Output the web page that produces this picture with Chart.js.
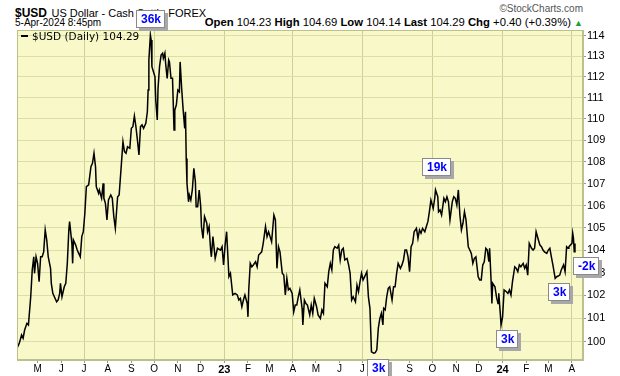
<!DOCTYPE html>
<html>
<head>
<meta charset="utf-8">
<script src="https://cdn.jsdelivr.net/npm/chart.js@4.4.1/dist/chart.umd.min.js"></script>
<style>
  body { margin: 0; background: #fff; }
  #wrap { position: relative; width: 620px; height: 376px; font-family: Arial, "Liberation Sans", sans-serif; overflow: hidden; }
  #chart { position: absolute; left: 0; top: 0; z-index: 1; }
  .txt { position: absolute; white-space: nowrap; color: #000; line-height: 1; }
  .legend { z-index: 2; font-family: "DejaVu Sans", sans-serif; font-size: 10.5px; }
  .legend i { display: inline-block; width: 7px; height: 2px; background: #000; vertical-align: middle; margin: 0 4px 2px 0; }
</style>
</head>
<body>
<div id="wrap">
  <div class="txt" style="left:15px;top:4px;"><b style="font-size:12px">$USD</b> <span style="font-size:11px">US Dollar - Cash Settle FOREX</span></div>
  <div class="txt" style="right:37px;top:4px;font-size:10px;color:#555">&copy;StockCharts.com</div>
  <div class="txt" style="left:15px;top:18px;font-size:10px">5-Apr-2024 8:45pm</div>
  <div class="txt" style="right:37px;top:17px;font-size:11.3px"><b>Open</b> 104.23 <b>High</b> 104.69 <b>Low</b> 104.14 <b>Last</b> 104.29 <b>Chg</b> +0.40 (+0.39%) <span style="color:#2a9d2a;font-size:9px">&#9650;</span></div>
  <div class="txt legend" style="left:21px;top:31px"><i></i>$USD (Daily) 104.29</div>
  <canvas id="chart" width="620" height="376"></canvas>
</div>
<script>
// daily closes (not every session)
const dates = [
  '2022-04-04','2022-04-07','2022-04-10','2022-04-12','2022-04-14','2022-04-17','2022-04-19','2022-04-22',
  '2022-04-24','2022-04-26','2022-04-27','2022-04-29','2022-05-01','2022-05-03','2022-05-05','2022-05-07',
  '2022-05-09','2022-05-11','2022-05-13','2022-05-15','2022-05-18','2022-05-19','2022-05-21','2022-05-23',
  '2022-05-26','2022-05-28','2022-05-30','2022-05-31','2022-06-02','2022-06-05','2022-06-07','2022-06-09',
  '2022-06-11','2022-06-12','2022-06-15','2022-06-16','2022-06-17','2022-06-20','2022-06-22','2022-06-24',
  '2022-06-26','2022-06-28','2022-06-30','2022-07-02','2022-07-04','2022-07-07','2022-07-10','2022-07-12',
  '2022-07-14','2022-07-16','2022-07-17','2022-07-20','2022-07-21','2022-07-24','2022-07-26','2022-07-27',
  '2022-07-29','2022-07-31','2022-08-02','2022-08-05','2022-08-07','2022-08-09','2022-08-11','2022-08-14',
  '2022-08-16','2022-08-19','2022-08-21','2022-08-23','2022-08-25','2022-08-27','2022-08-30','2022-09-01',
  '2022-09-03','2022-09-05','2022-09-07','2022-09-09','2022-09-11','2022-09-13','2022-09-15','2022-09-17',
  '2022-09-20','2022-09-22','2022-09-23','2022-09-24','2022-09-26','2022-09-27','2022-09-28','2022-09-30',
  '2022-10-02','2022-10-03','2022-10-05','2022-10-06','2022-10-08','2022-10-10','2022-10-12','2022-10-13',
  '2022-10-15','2022-10-16','2022-10-18','2022-10-20','2022-10-21','2022-10-23','2022-10-25','2022-10-27',
  '2022-10-28','2022-10-30','2022-11-01','2022-11-03','2022-11-04','2022-11-06','2022-11-08','2022-11-10',
  '2022-11-11','2022-11-12','2022-11-13','2022-11-15','2022-11-16','2022-11-18','2022-11-20','2022-11-22',
  '2022-11-24','2022-11-25','2022-11-27','2022-11-29','2022-12-01','2022-12-02','2022-12-04','2022-12-06',
  '2022-12-09','2022-12-10','2022-12-12','2022-12-14','2022-12-15','2022-12-17','2022-12-20','2022-12-23',
  '2022-12-27','2022-12-29','2022-12-31','2023-01-02','2023-01-04','2023-01-07','2023-01-09','2023-01-12',
  '2023-01-15','2023-01-18','2023-01-20','2023-01-22','2023-01-24','2023-01-26','2023-01-28','2023-01-31',
  '2023-02-01','2023-02-02','2023-02-04','2023-02-06','2023-02-08','2023-02-11','2023-02-13','2023-02-15',
  '2023-02-17','2023-02-19','2023-02-21','2023-02-24','2023-02-26','2023-02-28','2023-03-02','2023-03-04',
  '2023-03-07','2023-03-09','2023-03-11','2023-03-13','2023-03-15','2023-03-18','2023-03-20','2023-03-22',
  '2023-03-24','2023-03-26','2023-03-28','2023-03-31','2023-04-02','2023-04-04','2023-04-06','2023-04-08',
  '2023-04-10','2023-04-13','2023-04-14','2023-04-16','2023-04-18','2023-04-20','2023-04-23','2023-04-25',
  '2023-04-27','2023-04-29','2023-05-02','2023-05-04','2023-05-07','2023-05-09','2023-05-11','2023-05-13',
  '2023-05-16','2023-05-18','2023-05-20','2023-05-22','2023-05-24','2023-05-26','2023-05-29','2023-05-31',
  '2023-06-02','2023-06-04','2023-06-06','2023-06-08','2023-06-11','2023-06-13','2023-06-15','2023-06-17',
  '2023-06-19','2023-06-22','2023-06-24','2023-06-26','2023-06-28','2023-06-30','2023-07-02','2023-07-05',
  '2023-07-07','2023-07-09','2023-07-11','2023-07-13','2023-07-16','2023-07-18','2023-07-20','2023-07-22',
  '2023-07-24','2023-07-26','2023-07-28','2023-07-29','2023-07-31','2023-08-02','2023-08-04','2023-08-06',
  '2023-08-09','2023-08-11','2023-08-13','2023-08-15','2023-08-17','2023-08-20','2023-08-22','2023-08-24',
  '2023-08-26','2023-08-28','2023-08-30','2023-09-01','2023-09-03','2023-09-05','2023-09-07','2023-09-10',
  '2023-09-12','2023-09-14','2023-09-16','2023-09-18','2023-09-21','2023-09-23','2023-09-25','2023-09-27',
  '2023-09-29','2023-10-02','2023-10-04','2023-10-05','2023-10-08','2023-10-09','2023-10-11','2023-10-13',
  '2023-10-16','2023-10-18','2023-10-20','2023-10-22','2023-10-24','2023-10-27','2023-10-29','2023-10-31',
  '2023-11-02','2023-11-04','2023-11-06','2023-11-08','2023-11-10','2023-11-12','2023-11-14','2023-11-17',
  '2023-11-19','2023-11-21','2023-11-23','2023-11-25','2023-11-27','2023-11-30','2023-12-02','2023-12-04',
  '2023-12-06','2023-12-08','2023-12-10','2023-12-12','2023-12-14','2023-12-15','2023-12-17','2023-12-18',
  '2023-12-19','2023-12-22','2023-12-24','2023-12-26','2023-12-27','2023-12-29','2023-12-30','2024-01-01',
  '2024-01-03','2024-01-06','2024-01-08','2024-01-10','2024-01-12','2024-01-14','2024-01-17','2024-01-19',
  '2024-01-21','2024-01-23','2024-01-25','2024-01-28','2024-01-30','2024-02-01','2024-02-03','2024-02-05',
  '2024-02-08','2024-02-10','2024-02-12','2024-02-14','2024-02-17','2024-02-19','2024-02-21','2024-02-23',
  '2024-02-25','2024-02-28','2024-03-01','2024-03-03','2024-03-05','2024-03-07','2024-03-10','2024-03-12',
  '2024-03-14','2024-03-16','2024-03-18','2024-03-21','2024-03-23','2024-03-25','2024-03-27','2024-03-28',
  '2024-04-01','2024-04-02','2024-04-03','2024-04-04','2024-04-05'
];
const closes = [
  99.72, 99.93, 100.29, 100.15, 100.50, 100.79, 100.72, 101.94,
  103.12, 103.70, 102.97, 103.70, 103.41, 102.60, 103.70, 103.70,
  103.92, 104.90, 104.45, 103.70, 103.19, 102.53, 102.09, 101.94,
  101.72, 101.80, 102.09, 102.53, 101.94, 102.38, 102.53, 103.41,
  104.90, 105.27, 104.30, 103.41, 104.45, 104.22, 104.00, 103.85,
  103.70, 104.60, 104.82, 105.65, 106.86, 106.94, 107.78, 107.93,
  108.40, 107.78, 106.86, 106.56, 106.71, 106.33, 107.01, 106.33,
  106.10, 105.35, 106.25, 106.48, 106.33, 105.50, 104.97, 106.40,
  106.48, 107.93, 108.93, 108.47, 108.40, 108.70, 108.63, 109.56,
  109.64, 110.14, 109.64, 109.01, 108.32, 109.64, 109.72, 109.56,
  109.80, 110.34, 111.37, 112.81, 114.02, 113.78, 112.49, 112.25,
  112.00, 110.90, 109.95, 111.45, 112.49, 113.05, 113.14, 112.89,
  113.14, 112.64, 111.93, 112.81, 112.72, 111.93, 111.93, 109.48,
  110.42, 110.66, 111.37, 111.29, 112.72, 111.45, 110.42, 109.56,
  110.34, 108.16, 107.01, 106.17, 106.48, 106.25, 106.71, 107.70,
  107.09, 105.95, 105.95, 106.71, 105.95, 105.05, 104.52, 105.50,
  105.20, 104.82, 105.05, 104.00, 103.70, 104.60, 103.63, 104.08,
  104.00, 104.15, 103.34, 104.22, 104.82, 102.82, 102.97, 102.02,
  102.09, 102.02, 101.80, 101.87, 101.51, 101.80, 102.02, 101.65,
  101.07, 102.24, 103.41, 103.26, 103.34, 103.48, 103.26, 103.78,
  103.85, 103.92, 104.30, 105.05, 104.60, 104.82, 104.60, 104.37,
  105.57, 105.35, 103.19, 104.15, 103.92, 102.97, 102.89, 102.02,
  102.75, 102.24, 102.31, 102.09, 101.29, 101.58, 101.58, 101.94,
  102.24, 101.44, 100.72, 101.80, 101.65, 101.58, 101.15, 101.58,
  101.22, 101.87, 101.51, 101.15, 101.00, 101.37, 101.22, 102.53,
  102.38, 103.04, 103.41, 103.12, 104.00, 104.15, 104.08, 104.22,
  103.56, 104.00, 104.08, 103.56, 103.63, 103.34, 102.97, 101.80,
  101.94, 101.72, 102.45, 102.16, 102.60, 102.97, 102.68, 102.89,
  103.04, 101.94, 101.44, 99.57, 99.51, 99.53, 99.65, 100.58,
  101.00, 101.22, 100.72, 101.44, 101.37, 101.94, 102.31, 102.38,
  101.80, 102.38, 102.38, 102.97, 103.41, 103.19, 103.34, 103.56,
  104.00, 104.00, 103.70, 103.04, 104.15, 104.30, 104.82, 104.97,
  104.52, 104.90, 104.75, 104.97, 104.82, 105.05, 105.27, 105.72,
  106.25, 105.87, 106.33, 106.71, 106.40, 105.72, 105.80, 105.57,
  106.33, 106.17, 106.40, 106.17, 105.35, 106.17, 106.40, 106.33,
  106.02, 106.71, 105.57, 104.90, 105.20, 105.72, 105.35, 104.15,
  104.00, 103.85, 103.41, 103.63, 103.70, 102.82, 102.68, 102.68,
  103.34, 103.48, 104.08, 104.00, 103.48, 104.08, 102.60, 101.65,
  102.53, 102.38, 101.94, 101.65, 102.09, 101.22, 100.72, 101.07,
  102.24, 102.16, 102.09, 102.24, 102.02, 102.60, 103.26, 103.19,
  103.04, 103.34, 103.26, 103.41, 103.19, 103.34, 102.89, 104.30,
  104.08, 104.00, 104.08, 104.82, 104.45, 104.22, 104.15, 104.00,
  103.92, 103.85, 104.00, 104.08, 103.70, 103.34, 102.75, 102.82,
  102.85, 102.89, 103.12, 103.34, 103.04, 104.15, 104.08, 104.15,
  104.30, 104.75, 104.52, 103.92, 104.29
];

const monthTickDates = [
  '2022-05-01','2022-06-01','2022-07-01','2022-08-01','2022-09-01','2022-10-01','2022-11-01','2022-12-01',
  '2023-01-01','2023-02-01','2023-03-01','2023-04-01','2023-05-01','2023-06-01','2023-07-01','2023-08-01',
  '2023-09-01','2023-10-01','2023-11-01','2023-12-01','2024-01-01','2024-02-01','2024-03-01','2024-04-01'
];
const monthTickLabels = ['M','J','J','A','S','O','N','D','23','F','M','A','M','J','J','A','S','O','N','D','24','F','M','A'];
const priceTicks = [100, 101, 102, 103, 104, 105, 106, 107, 108, 109, 110, 111, 112, 113, 114];

// volume boxes StockCharts puts on swing points
const noteLabels = ['36k', '19k', '3k', '3k', '3k', '-2k'];
const noteDates = ['2022-09-26', '2023-10-05', '2023-07-16', '2023-12-30', '2024-03-10', '2024-04-05'];

const bgColor = 'rgb(248,248,200)';
const gridColor = 'rgb(220,223,165)';
const quarterColor = 'rgb(204,210,150)';
const frameColor = 'rgb(190,192,140)';

const points = dates.map((d, i) => ({ x: Date.parse(d), y: closes[i] }));

const plotBg = {
  id: 'plotBg',
  beforeDraw(chart) {
    const { ctx, chartArea: a } = chart;
    ctx.save();
    ctx.fillStyle = bgColor;
    ctx.fillRect(a.left, a.top, a.right - a.left, a.bottom - a.top);
    ctx.restore();
  },
  afterDatasetsDraw(chart) {
    const { ctx, chartArea: a } = chart;
    ctx.save();
    ctx.strokeStyle = frameColor;
    ctx.lineWidth = 1;
    ctx.strokeRect(a.left + 0.5, a.top + 0.5, a.right - a.left - 1, a.bottom - a.top - 1);
    ctx.restore();
  }
};

// box offsets from the anchor point (dx of box centre, dy of box top)
const noteOffsets = [[0, -25], [1, -32], [4, 6], [6, 5], [4, 5], [11, 13]];

const noteBoxes = {
  id: 'noteBoxes',
  afterDraw(chart) {
    const { ctx, scales } = chart;
    ctx.save();
    ctx.font = 'bold 12px Arial, "Liberation Sans", sans-serif';
    ctx.textBaseline = 'middle';
    noteLabels.forEach((lbl, i) => {
      const idx = dates.indexOf(noteDates[i]);
      const px = scales.x.getPixelForValue(Date.parse(noteDates[i]));
      const py = scales.y.getPixelForValue(closes[idx]);
      const w = Math.round(ctx.measureText(lbl).width + 9);
      const h = 18;
      const x = Math.round(px + noteOffsets[i][0] - w / 2);
      const y = Math.round(py + noteOffsets[i][1]);
      ctx.fillStyle = '#a8a8a8';
      ctx.fillRect(x + 3, y + 3, w, h);
      ctx.fillStyle = '#fff';
      ctx.fillRect(x, y, w, h);
      ctx.strokeStyle = '#8a8a8a';
      ctx.lineWidth = 1;
      ctx.strokeRect(x + 0.5, y + 0.5, w - 1, h - 1);
      ctx.fillStyle = '#0000ff';
      ctx.fillText(lbl, x + 5, y + h / 2 + 1);
    });
    ctx.restore();
  }
};

new Chart(document.getElementById('chart'), {
  type: 'line',
  data: {
    datasets: [{
      data: points,
      borderColor: '#000',
      borderWidth: 1.5,
      pointRadius: 0,
      tension: 0,
      fill: false
    }]
  },
  options: {
    responsive: false,
    animation: false,
    devicePixelRatio: 1,
    layout: { padding: { left: 17, top: 30, right: 0, bottom: 0 } },
    plugins: { legend: { display: false }, tooltip: { enabled: false } },
    scales: {
      x: {
        type: 'linear',
        min: Date.parse('2022-04-04'),
        max: Date.parse('2024-04-15T12:00:00Z'),
        afterBuildTicks: (scale) => { scale.ticks = monthTickDates.map(d => ({ value: Date.parse(d) })); },
        afterFit: (scale) => { scale.height = 16; },
        ticks: {
          autoSkip: false,
          maxRotation: 0,
          padding: 0,
          color: '#000',
          font: (ctx) => {
            const lbl = monthTickLabels[ctx.index] || '';
            return lbl.length === 2
              ? { family: 'Arial, "Liberation Sans", sans-serif', size: 11, weight: 'bold' }
              : { family: 'Arial, "Liberation Sans", sans-serif', size: 10 };
          },
          callback: (v, i) => monthTickLabels[i]
        },
        grid: {
          color: (ctx) => {
            if (!ctx.tick) return 'rgba(0,0,0,0)';
            const m = new Date(ctx.tick.value).getUTCMonth();
            return m % 3 === 0 ? quarterColor : 'rgba(0,0,0,0)';
          },
          tickColor: '#9a9a80',
          tickLength: 3
        },
        border: { color: frameColor }
      },
      y: {
        type: 'logarithmic',
        position: 'right',
        min: 99.22,
        max: 114.27,
        afterBuildTicks: (scale) => { scale.ticks = priceTicks.map(v => ({ value: v })); },
        afterFit: (scale) => { scale.width = 37; },
        ticks: {
          padding: 1,
          color: '#000',
          font: { family: 'Arial, "Liberation Sans", sans-serif', size: 11 },
          callback: (v, i) => String(priceTicks[i])
        },
        grid: { color: gridColor, tickColor: '#9a9a80', tickLength: 3 },
        border: { color: frameColor }
      }
    }
  },
  plugins: [plotBg, noteBoxes]
});
</script>
</body>
</html>
